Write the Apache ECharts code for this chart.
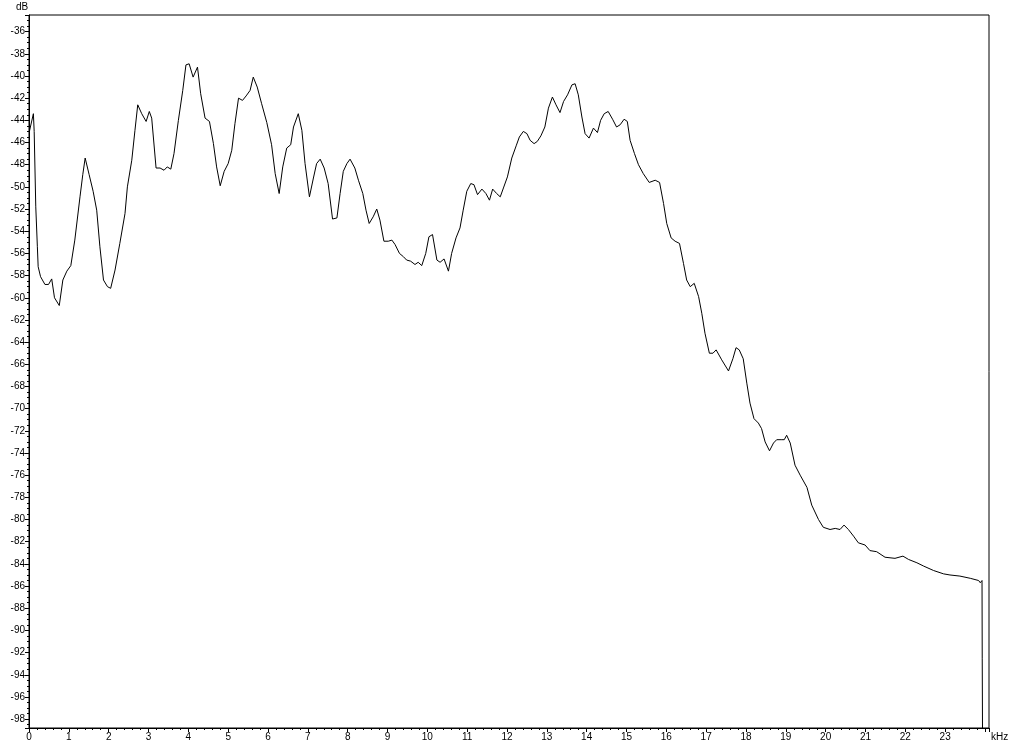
<!DOCTYPE html>
<html>
<head>
<meta charset="utf-8">
<script src="https://cdn.jsdelivr.net/npm/echarts@6/dist/echarts.min.js"></script>
<style>
html,body{margin:0;padding:0;background:#fff;}
#c{width:1024px;height:745px;}
</style>
</head>
<body>
<div id="c"></div>
<script>
// frequency (kHz)
const freq = [
0.01,0.11,0.13,0.17,0.21,0.23,0.29,0.40,0.49,0.57,0.64,0.76,0.85,0.95,1.05,1.15,1.28,1.35,1.41,1.51,1.61,1.70,1.78,1.87,1.97,2.05,2.16,2.28,2.41,2.47,2.58,2.66,2.73,2.83,2.94,3.02,3.08,3.19,3.29,3.39,3.47,3.56,3.64,3.75,3.86,3.94,4.02,4.12,4.23,4.31,4.42,4.53,4.63,4.71,4.80,4.90,5.00,5.09,5.17,5.26,5.36,5.45,5.55,5.63,5.73,5.84,5.97,6.09,6.18,6.28,6.37,6.47,6.57,6.64,6.76,6.85,6.93,7.04,7.14,7.22,7.31,7.41,7.51,7.62,7.73,7.81,7.89,7.98,8.06,8.18,8.27,8.38,8.46,8.54,8.64,8.73,8.81,8.91,9.02,9.11,9.19,9.30,9.40,9.48,9.58,9.69,9.77,9.86,9.96,10.04,10.13,10.24,10.32,10.42,10.53,10.61,10.72,10.82,10.90,10.99,11.09,11.17,11.26,11.37,11.47,11.56,11.64,11.74,11.83,11.91,12.01,12.12,12.23,12.31,12.41,12.50,12.58,12.68,12.76,12.85,12.95,13.04,13.14,13.23,13.33,13.42,13.52,13.63,13.71,13.79,13.88,13.96,14.06,14.17,14.27,14.35,14.44,14.54,14.65,14.75,14.84,14.94,15.02,15.09,15.20,15.30,15.42,15.57,15.72,15.83,15.93,16.01,16.12,16.22,16.33,16.43,16.51,16.60,16.70,16.81,16.89,16.97,17.08,17.17,17.25,17.39,17.56,17.67,17.75,17.83,17.93,18.02,18.10,18.20,18.31,18.39,18.48,18.59,18.69,18.77,18.90,18.96,19.02,19.11,19.23,19.36,19.53,19.65,19.82,19.94,20.11,20.24,20.36,20.46,20.57,20.70,20.82,20.99,21.11,21.28,21.49,21.74,21.94,22.08,22.29,22.46,22.71,22.96,23.12,23.37,23.63,23.84,23.88,23.925,23.93,23.955,23.96
];
// level (dB)
const level = [
-45.0,-43.4,-45.0,-51.8,-55.4,-57.2,-58.1,-58.8,-58.8,-58.3,-60.0,-60.7,-58.4,-57.6,-57.1,-54.8,-50.9,-48.9,-47.4,-48.9,-50.4,-52.1,-55.4,-58.4,-59.0,-59.15,-57.5,-55.1,-52.4,-50.0,-47.6,-44.9,-42.6,-43.4,-44.1,-43.2,-43.8,-48.3,-48.3,-48.5,-48.2,-48.4,-47.0,-44.0,-41.3,-39.0,-38.9,-40.1,-39.2,-41.6,-43.8,-44.1,-46.1,-48.2,-49.9,-48.6,-47.9,-46.7,-44.3,-42.0,-42.2,-41.8,-41.3,-40.1,-41.0,-42.5,-44.2,-46.2,-48.8,-50.6,-48.2,-46.5,-46.2,-44.6,-43.4,-44.9,-47.9,-50.9,-49.2,-47.9,-47.5,-48.3,-49.7,-52.9,-52.8,-50.6,-48.6,-47.9,-47.5,-48.3,-49.4,-50.6,-52.1,-53.3,-52.7,-52.0,-53.0,-54.9,-54.9,-54.8,-55.2,-56.0,-56.3,-56.6,-56.7,-57.0,-56.8,-57.1,-56.0,-54.5,-54.3,-56.6,-56.8,-56.5,-57.6,-56.0,-54.6,-53.7,-52.1,-50.4,-49.7,-49.8,-50.7,-50.2,-50.6,-51.2,-50.2,-50.6,-50.9,-50.1,-49.1,-47.4,-46.3,-45.5,-45.0,-45.2,-45.8,-46.1,-45.9,-45.4,-44.6,-42.9,-41.9,-42.6,-43.3,-42.3,-41.7,-40.8,-40.7,-41.7,-43.7,-45.2,-45.6,-44.7,-45.1,-44.0,-43.4,-43.2,-43.9,-44.6,-44.4,-43.9,-44.1,-45.8,-47.0,-48.0,-48.8,-49.6,-49.4,-49.6,-51.5,-53.3,-54.6,-54.9,-55.1,-56.9,-58.4,-59.0,-58.7,-59.9,-61.4,-63.2,-65.0,-65.0,-64.7,-65.6,-66.6,-65.5,-64.5,-64.7,-65.5,-67.7,-69.5,-70.9,-71.3,-71.8,-73.0,-73.8,-73.1,-72.8,-72.8,-72.8,-72.4,-73.1,-75.1,-76.0,-77.1,-78.7,-80.0,-80.7,-80.9,-80.8,-80.9,-80.5,-80.9,-81.5,-82.1,-82.3,-82.8,-82.9,-83.4,-83.5,-83.3,-83.6,-83.9,-84.2,-84.6,-84.9,-85.0,-85.1,-85.3,-85.5,-85.7,-85.5,-92.5,-92.6,-120
];
const xLabelMax = 23; // last labelled kHz tick

const data = freq.map((f, i) => [f, level[i]]);
const font = 'Liberation Sans, Arial, sans-serif';
const chart = echarts.init(document.getElementById('c'), null, {renderer: 'canvas'});
chart.setOption({
  animation: false,
  backgroundColor: '#fff',
  grid: {left: 29, top: 15, right: 35, bottom: 17, show: true, borderColor: '#000', borderWidth: 1, backgroundColor: 'transparent'},
  xAxis: {
    type: 'value', min: 0, max: 24.1, interval: 1,
    axisLine: {onZero: false, lineStyle: {color: '#000', width: 1}},
    axisTick: {length: 4, lineStyle: {color: '#000'}},
    minorTick: {show: true, splitNumber: 5, length: 2, lineStyle: {color: '#000'}},
    splitLine: {show: false},
    axisLabel: {color: '#000', fontSize: 10, fontFamily: font, margin: 4, showMaxLabel: false,
      formatter: v => (v > xLabelMax ? '' : String(v))}
  },
  yAxis: {
    type: 'value', min: -98.8, max: -34.5, splitNumber: 32, minInterval: 2, maxInterval: 2,
    axisLine: {onZero: false, lineStyle: {color: '#000', width: 1}},
    axisTick: {length: 4, lineStyle: {color: '#000'}},
    minorTick: {show: true, splitNumber: 4, length: 2, lineStyle: {color: '#000'}},
    splitLine: {show: false},
    axisLabel: {color: '#000', fontSize: 10, fontFamily: font, margin: 4, showMinLabel: false, showMaxLabel: false,
      formatter: v => (Math.abs(v - Math.round(v)) > 1e-6 ? '' : String(v))}
  },
  graphic: [
    {type: 'text', left: 16, top: 2, style: {text: 'dB', fill: '#000', font: '10px ' + font}},
    {type: 'text', left: 991, top: 732, style: {text: 'kHz', fill: '#000', font: '10px ' + font}}
  ],
  series: [{
    type: 'line', data: data, showSymbol: false, symbol: 'none', clip: true,
    lineStyle: {color: '#000', width: 1}
  }]
});
</script>
</body>
</html>
